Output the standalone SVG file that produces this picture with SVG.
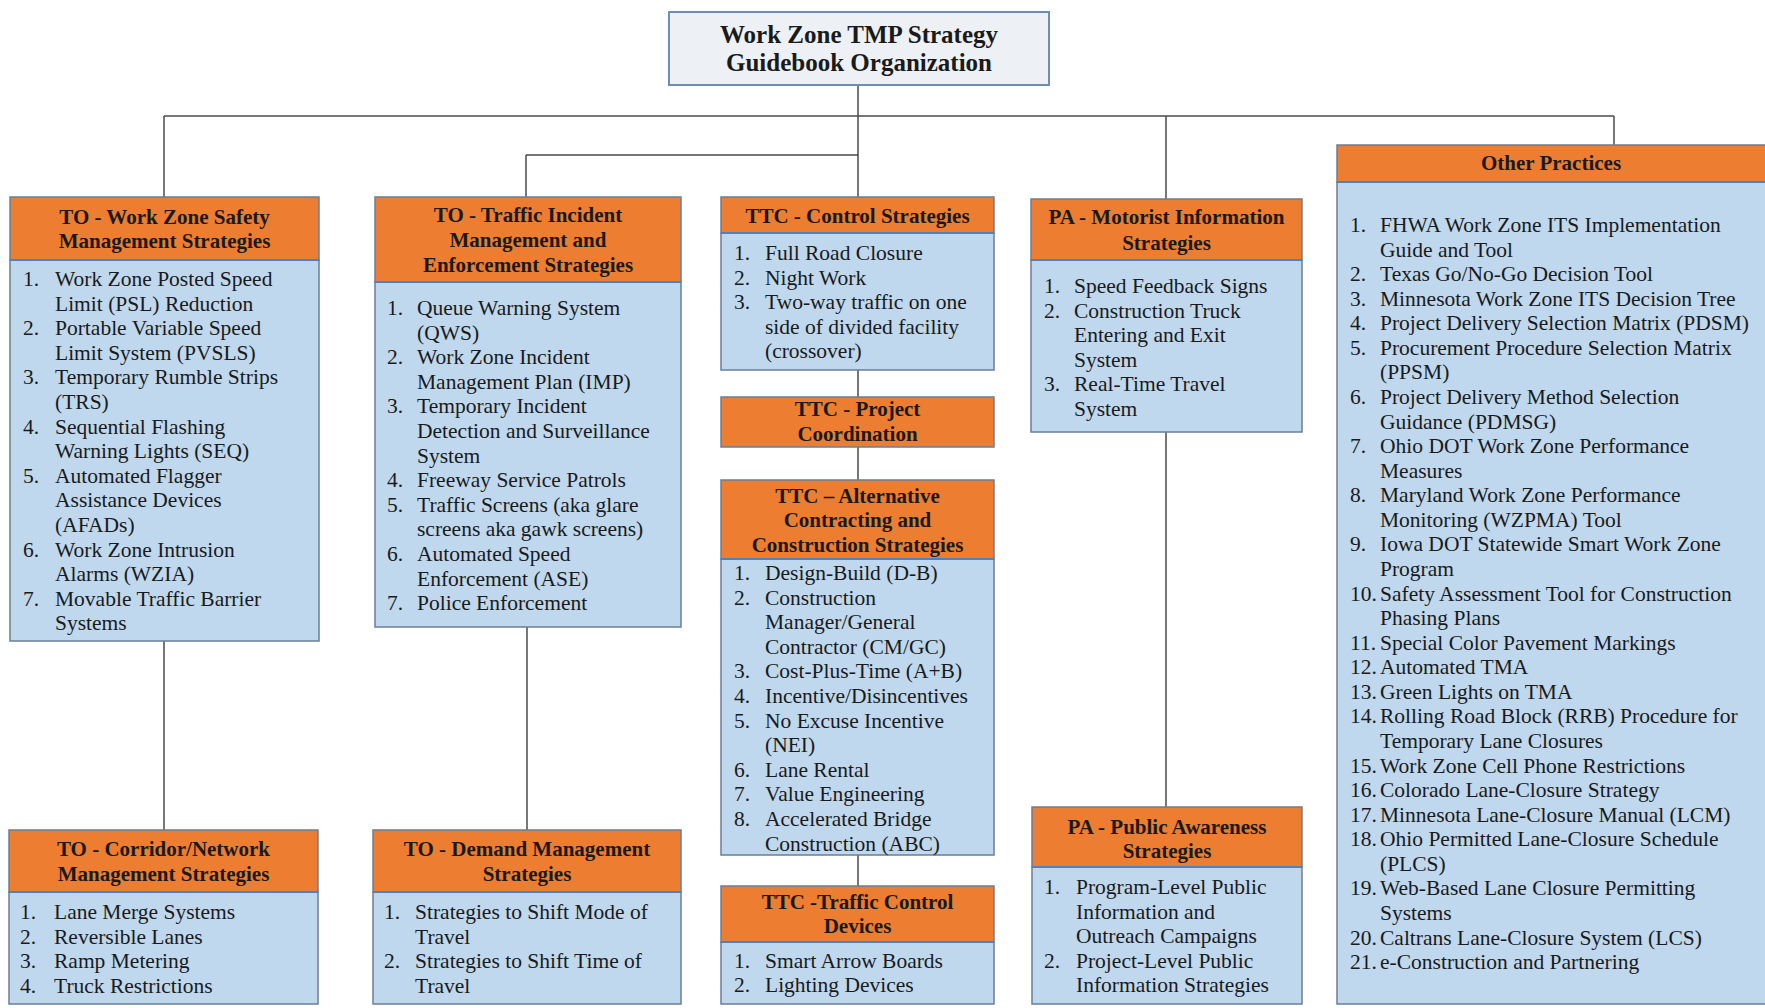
<svg xmlns="http://www.w3.org/2000/svg" width="1765" height="1008" viewBox="0 0 1765 1008">
  <style>
    .hd { fill: #ED7D31; stroke: #6A7F96; stroke-width: 1.5; }
    .bd { fill: #BFD8EE; stroke: #6A7F96; stroke-width: 1.5; }
    .sep { stroke: #4F81BD; stroke-width: 2; }
    .root { fill: #EDF1F6; stroke: #6D8DB5; stroke-width: 2; }
    .ht { font-family: "Liberation Serif", "Times New Roman", serif; font-weight: bold; font-size: 21px; fill: #1a1a1a; text-anchor: middle; }
    .rt { font-family: "Liberation Serif", "Times New Roman", serif; font-weight: bold; font-size: 25px; fill: #1a1a1a; text-anchor: middle; }
    .it { font-family: "Liberation Serif", "Times New Roman", serif; font-size: 21.5px; fill: #1a1a1a; }
    .cn { fill: none; stroke: #4a4a4a; stroke-width: 1.5; }
  </style>

  <rect width="1765" height="1008" fill="#ffffff"/>

  <!-- connectors -->
  <g id="connectors" class="cn">
    <path d="M858 85 V197"/>
    <path d="M164 116 H1614"/>
    <path d="M164 116 V197"/>
    <path d="M1166 116 V199"/>
    <path d="M1614 116 V145"/>
    <path d="M526 155 H858"/>
    <path d="M526 155 V197"/>
    <path d="M164 641 V830"/>
    <path d="M527 627 V830"/>
    <path d="M858 370 V397"/>
    <path d="M858 447 V480"/>
    <path d="M858 855 V886"/>
    <path d="M1166 432 V807"/>
  </g>

  <!-- root -->
  <g id="root">
    <rect class="root" x="669" y="12" width="380" height="73"/>
    <text class="rt" x="859" y="43">Work Zone TMP Strategy</text>
    <text class="rt" x="859" y="71">Guidebook Organization</text>
  </g>

  <!-- TO - Work Zone Safety -->
  <g id="to-safety">
    <rect class="bd" x="10" y="260" width="309" height="381"/>
    <rect class="hd" x="10" y="197" width="309" height="63"/>
    <line class="sep" x1="10" y1="260" x2="319" y2="260"/>
    <text class="ht" x="164.5" y="224">TO - Work Zone Safety</text>
    <text class="ht" x="164.5" y="248">Management Strategies</text>
    <g class="it">
      <text x="23" y="286">1.</text><text x="55" y="286">Work Zone Posted Speed</text>
      <text x="55" y="310.6">Limit (PSL) Reduction</text>
      <text x="23" y="335.2">2.</text><text x="55" y="335.2">Portable Variable Speed</text>
      <text x="55" y="359.8">Limit System (PVSLS)</text>
      <text x="23" y="384.4">3.</text><text x="55" y="384.4">Temporary Rumble Strips</text>
      <text x="55" y="409">(TRS)</text>
      <text x="23" y="433.6">4.</text><text x="55" y="433.6">Sequential Flashing</text>
      <text x="55" y="458.2">Warning Lights (SEQ)</text>
      <text x="23" y="482.8">5.</text><text x="55" y="482.8">Automated Flagger</text>
      <text x="55" y="507.4">Assistance Devices</text>
      <text x="55" y="532">(AFADs)</text>
      <text x="23" y="556.6">6.</text><text x="55" y="556.6">Work Zone Intrusion</text>
      <text x="55" y="581.2">Alarms (WZIA)</text>
      <text x="23" y="605.8">7.</text><text x="55" y="605.8">Movable Traffic Barrier</text>
      <text x="55" y="630.4">Systems</text>
    </g>
  </g>

  <!-- TO - Traffic Incident Management -->
  <g id="to-incident">
    <rect class="bd" x="375" y="282" width="306" height="345"/>
    <rect class="hd" x="375" y="197" width="306" height="85"/>
    <line class="sep" x1="375" y1="282" x2="681" y2="282"/>
    <text class="ht" x="528" y="222">TO - Traffic Incident</text>
    <text class="ht" x="528" y="247">Management and</text>
    <text class="ht" x="528" y="272">Enforcement Strategies</text>
    <g class="it">
      <text x="387" y="315">1.</text><text x="417" y="315">Queue Warning System</text>
      <text x="417" y="339.6">(QWS)</text>
      <text x="387" y="364.2">2.</text><text x="417" y="364.2">Work Zone Incident</text>
      <text x="417" y="388.8">Management Plan (IMP)</text>
      <text x="387" y="413.4">3.</text><text x="417" y="413.4">Temporary Incident</text>
      <text x="417" y="438">Detection and Surveillance</text>
      <text x="417" y="462.6">System</text>
      <text x="387" y="487.2">4.</text><text x="417" y="487.2">Freeway Service Patrols</text>
      <text x="387" y="511.8">5.</text><text x="417" y="511.8">Traffic Screens (aka glare</text>
      <text x="417" y="536.4">screens aka gawk screens)</text>
      <text x="387" y="561">6.</text><text x="417" y="561">Automated Speed</text>
      <text x="417" y="585.6">Enforcement (ASE)</text>
      <text x="387" y="610.2">7.</text><text x="417" y="610.2">Police Enforcement</text>
    </g>
  </g>

  <!-- TTC - Control Strategies -->
  <g id="ttc-control">
    <rect class="bd" x="721" y="233" width="273" height="137"/>
    <rect class="hd" x="721" y="197" width="273" height="36"/>
    <line class="sep" x1="721" y1="233" x2="994" y2="233"/>
    <text class="ht" x="857.5" y="223">TTC - Control Strategies</text>
    <g class="it">
      <text x="734" y="260">1.</text><text x="765" y="260">Full Road Closure</text>
      <text x="734" y="284.5">2.</text><text x="765" y="284.5">Night Work</text>
      <text x="734" y="309">3.</text><text x="765" y="309">Two-way traffic on one</text>
      <text x="765" y="333.5">side of divided facility</text>
      <text x="765" y="358">(crossover)</text>
    </g>
  </g>

  <!-- TTC - Project Coordination -->
  <g id="ttc-coordination">
    <rect class="hd" x="721" y="397" width="273" height="50"/>
    <text class="ht" x="857.5" y="416">TTC - Project</text>
    <text class="ht" x="857.5" y="441">Coordination</text>
  </g>

  <!-- TTC - Alternative Contracting -->
  <g id="ttc-contracting">
    <rect class="bd" x="721" y="559" width="273" height="296"/>
    <rect class="hd" x="721" y="480" width="273" height="79"/>
    <line class="sep" x1="721" y1="559" x2="994" y2="559"/>
    <text class="ht" x="857.5" y="503">TTC – Alternative</text>
    <text class="ht" x="857.5" y="527">Contracting and</text>
    <text class="ht" x="857.5" y="552">Construction Strategies</text>
    <g class="it">
      <text x="734" y="580">1.</text><text x="765" y="580">Design-Build (D-B)</text>
      <text x="734" y="604.6">2.</text><text x="765" y="604.6">Construction</text>
      <text x="765" y="629.2">Manager/General</text>
      <text x="765" y="653.8">Contractor (CM/GC)</text>
      <text x="734" y="678.4">3.</text><text x="765" y="678.4">Cost-Plus-Time (A+B)</text>
      <text x="734" y="703">4.</text><text x="765" y="703">Incentive/Disincentives</text>
      <text x="734" y="727.6">5.</text><text x="765" y="727.6">No Excuse Incentive</text>
      <text x="765" y="752.2">(NEI)</text>
      <text x="734" y="776.8">6.</text><text x="765" y="776.8">Lane Rental</text>
      <text x="734" y="801.4">7.</text><text x="765" y="801.4">Value Engineering</text>
      <text x="734" y="826">8.</text><text x="765" y="826">Accelerated Bridge</text>
      <text x="765" y="850.6">Construction (ABC)</text>
    </g>
  </g>

  <!-- TTC - Traffic Control Devices -->
  <g id="ttc-devices">
    <rect class="bd" x="721" y="942" width="273" height="62"/>
    <rect class="hd" x="721" y="886" width="273" height="56"/>
    <line class="sep" x1="721" y1="942" x2="994" y2="942"/>
    <text class="ht" x="857.5" y="909">TTC -Traffic Control</text>
    <text class="ht" x="857.5" y="933">Devices</text>
    <g class="it">
      <text x="734" y="968">1.</text><text x="765" y="968">Smart Arrow Boards</text>
      <text x="734" y="992">2.</text><text x="765" y="992">Lighting Devices</text>
    </g>
  </g>

  <!-- PA - Motorist Information -->
  <g id="pa-motorist">
    <rect class="bd" x="1031" y="260" width="271" height="172"/>
    <rect class="hd" x="1031" y="199" width="271" height="61"/>
    <line class="sep" x1="1031" y1="260" x2="1302" y2="260"/>
    <text class="ht" x="1166.5" y="224">PA - Motorist Information</text>
    <text class="ht" x="1166.5" y="250">Strategies</text>
    <g class="it">
      <text x="1044" y="293">1.</text><text x="1074" y="293">Speed Feedback Signs</text>
      <text x="1044" y="317.5">2.</text><text x="1074" y="317.5">Construction Truck</text>
      <text x="1074" y="342">Entering and Exit</text>
      <text x="1074" y="366.5">System</text>
      <text x="1044" y="391">3.</text><text x="1074" y="391">Real-Time Travel</text>
      <text x="1074" y="415.5">System</text>
    </g>
  </g>

  <!-- PA - Public Awareness -->
  <g id="pa-public">
    <rect class="bd" x="1032" y="867" width="270" height="137"/>
    <rect class="hd" x="1032" y="807" width="270" height="60"/>
    <line class="sep" x1="1032" y1="867" x2="1302" y2="867"/>
    <text class="ht" x="1167" y="834">PA - Public Awareness</text>
    <text class="ht" x="1167" y="858">Strategies</text>
    <g class="it">
      <text x="1044" y="894">1.</text><text x="1076" y="894">Program-Level Public</text>
      <text x="1076" y="918.6">Information and</text>
      <text x="1076" y="943.2">Outreach Campaigns</text>
      <text x="1044" y="967.8">2.</text><text x="1076" y="967.8">Project-Level Public</text>
      <text x="1076" y="992.4">Information Strategies</text>
    </g>
  </g>

  <!-- TO - Corridor/Network -->
  <g id="to-corridor">
    <rect class="bd" x="9" y="892" width="309" height="112"/>
    <rect class="hd" x="9" y="830" width="309" height="62"/>
    <line class="sep" x1="9" y1="892" x2="318" y2="892"/>
    <text class="ht" x="163.5" y="856">TO - Corridor/Network</text>
    <text class="ht" x="163.5" y="881">Management Strategies</text>
    <g class="it">
      <text x="20" y="919">1.</text><text x="54" y="919">Lane Merge Systems</text>
      <text x="20" y="943.5">2.</text><text x="54" y="943.5">Reversible Lanes</text>
      <text x="20" y="968">3.</text><text x="54" y="968">Ramp Metering</text>
      <text x="20" y="992.5">4.</text><text x="54" y="992.5">Truck Restrictions</text>
    </g>
  </g>

  <!-- TO - Demand Management -->
  <g id="to-demand">
    <rect class="bd" x="373" y="892" width="308" height="112"/>
    <rect class="hd" x="373" y="830" width="308" height="62"/>
    <line class="sep" x1="373" y1="892" x2="681" y2="892"/>
    <text class="ht" x="527" y="856">TO - Demand Management</text>
    <text class="ht" x="527" y="881">Strategies</text>
    <g class="it">
      <text x="384" y="919">1.</text><text x="415" y="919">Strategies to Shift Mode of</text>
      <text x="415" y="943.5">Travel</text>
      <text x="384" y="968">2.</text><text x="415" y="968">Strategies to Shift Time of</text>
      <text x="415" y="992.5">Travel</text>
    </g>
  </g>

  <!-- Other Practices -->
  <g id="other-practices">
    <rect class="bd" x="1337" y="182" width="432" height="822"/>
    <rect class="hd" x="1337" y="145" width="432" height="37"/>
    <line class="sep" x1="1337" y1="182" x2="1769" y2="182"/>
    <text class="ht" x="1551" y="170">Other Practices</text>
    <g class="it">
      <text x="1350" y="232">1.</text><text x="1380" y="232">FHWA Work Zone ITS Implementation</text>
      <text x="1380" y="256.6">Guide and Tool</text>
      <text x="1350" y="281.1">2.</text><text x="1380" y="281.1">Texas Go/No-Go Decision Tool</text>
      <text x="1350" y="305.7">3.</text><text x="1380" y="305.7">Minnesota Work Zone ITS Decision Tree</text>
      <text x="1350" y="330.3">4.</text><text x="1380" y="330.3">Project Delivery Selection Matrix (PDSM)</text>
      <text x="1350" y="354.9">5.</text><text x="1380" y="354.9">Procurement Procedure Selection Matrix</text>
      <text x="1380" y="379.4">(PPSM)</text>
      <text x="1350" y="404">6.</text><text x="1380" y="404">Project Delivery Method Selection</text>
      <text x="1380" y="428.6">Guidance (PDMSG)</text>
      <text x="1350" y="453.1">7.</text><text x="1380" y="453.1">Ohio DOT Work Zone Performance</text>
      <text x="1380" y="477.7">Measures</text>
      <text x="1350" y="502.3">8.</text><text x="1380" y="502.3">Maryland Work Zone Performance</text>
      <text x="1380" y="526.8">Monitoring (WZPMA) Tool</text>
      <text x="1350" y="551.4">9.</text><text x="1380" y="551.4">Iowa DOT Statewide Smart Work Zone</text>
      <text x="1380" y="576">Program</text>
      <text x="1350" y="600.6">10.</text><text x="1380" y="600.6">Safety Assessment Tool for Construction</text>
      <text x="1380" y="625.1">Phasing Plans</text>
      <text x="1350" y="649.7">11.</text><text x="1380" y="649.7">Special Color Pavement Markings</text>
      <text x="1350" y="674.3">12.</text><text x="1380" y="674.3">Automated TMA</text>
      <text x="1350" y="698.8">13.</text><text x="1380" y="698.8">Green Lights on TMA</text>
      <text x="1350" y="723.4">14.</text><text x="1380" y="723.4">Rolling Road Block (RRB) Procedure for</text>
      <text x="1380" y="748">Temporary Lane Closures</text>
      <text x="1350" y="772.5">15.</text><text x="1380" y="772.5">Work Zone Cell Phone Restrictions</text>
      <text x="1350" y="797.1">16.</text><text x="1380" y="797.1">Colorado Lane-Closure Strategy</text>
      <text x="1350" y="821.7">17.</text><text x="1380" y="821.7">Minnesota Lane-Closure Manual (LCM)</text>
      <text x="1350" y="846.3">18.</text><text x="1380" y="846.3">Ohio Permitted Lane-Closure Schedule</text>
      <text x="1380" y="870.8">(PLCS)</text>
      <text x="1350" y="895.4">19.</text><text x="1380" y="895.4">Web-Based Lane Closure Permitting</text>
      <text x="1380" y="920">Systems</text>
      <text x="1350" y="944.5">20.</text><text x="1380" y="944.5">Caltrans Lane-Closure System (LCS)</text>
      <text x="1350" y="969.1">21.</text><text x="1380" y="969.1">e-Construction and Partnering</text>
    </g>
  </g>
</svg>
